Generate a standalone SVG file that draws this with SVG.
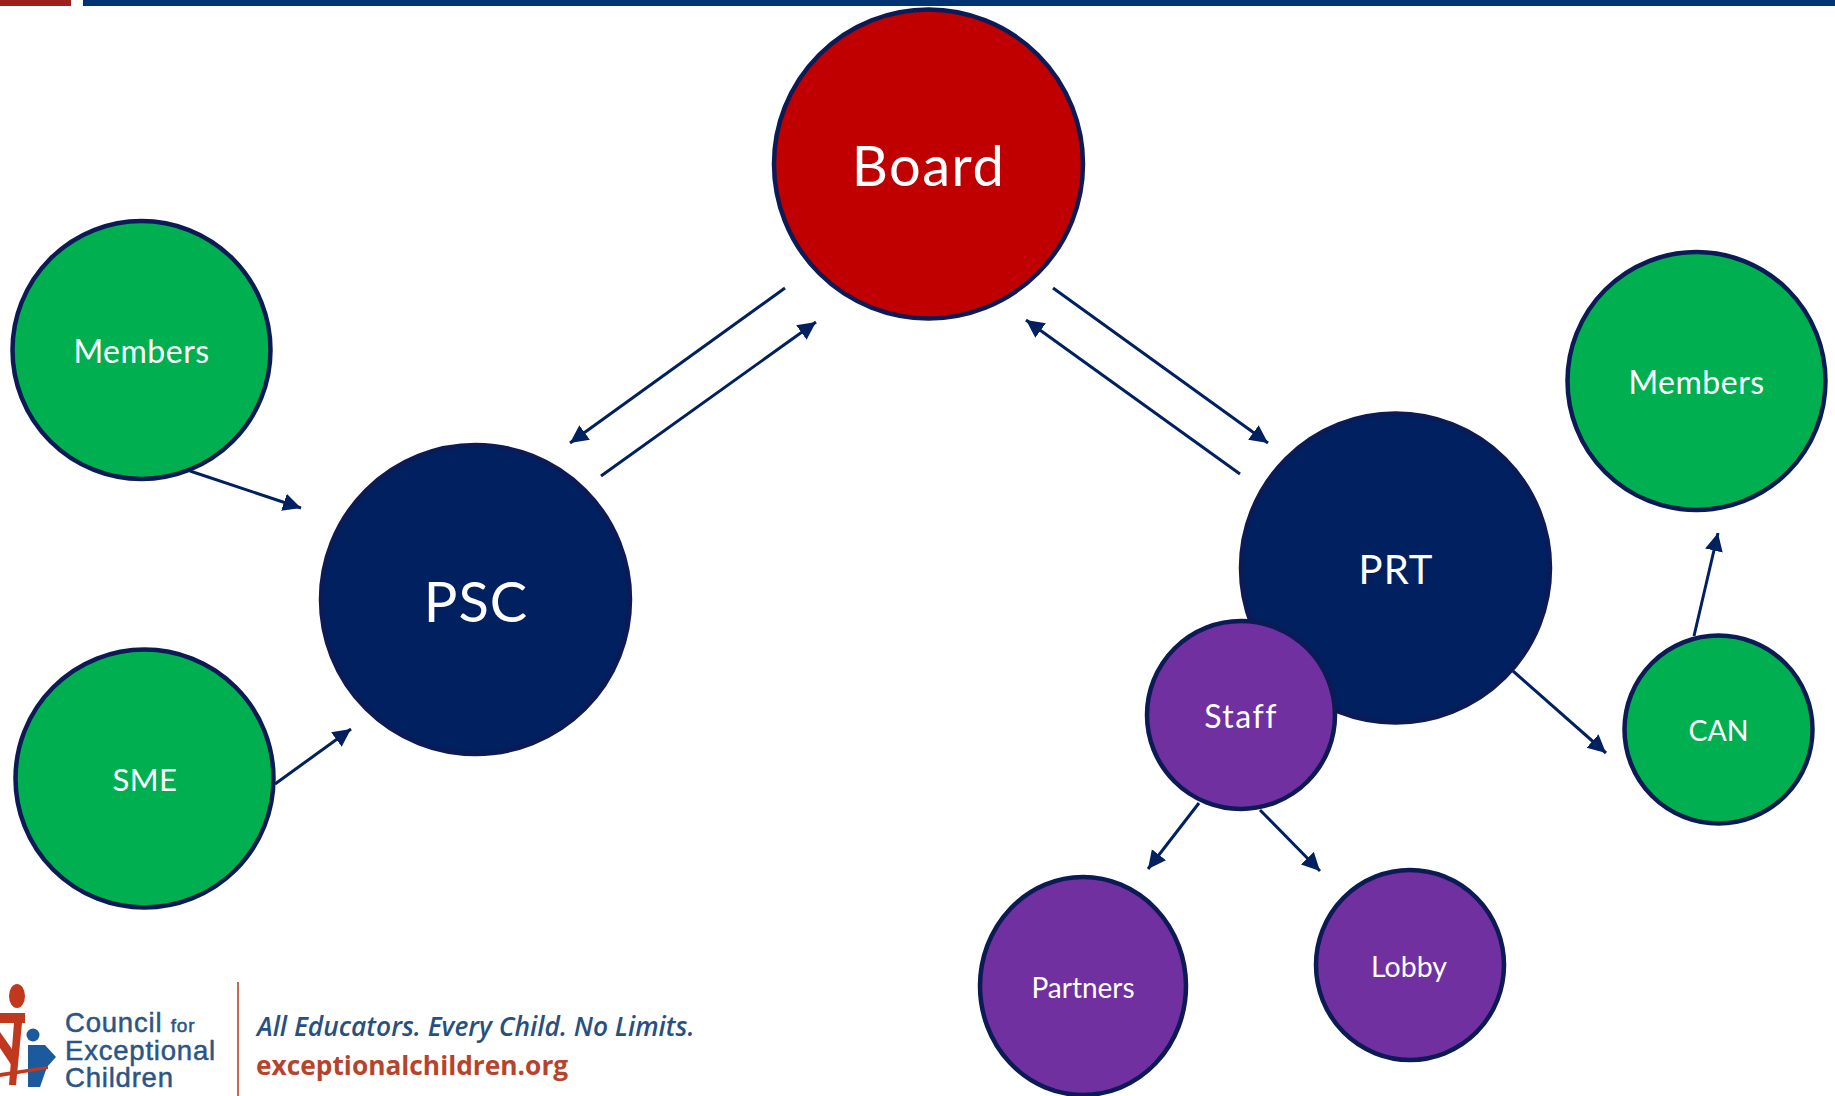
<svg xmlns="http://www.w3.org/2000/svg" width="1835" height="1096" viewBox="0 0 1835 1096">
<style>
text{font-family:"Lato","Liberation Sans",sans-serif;fill:#fff;text-anchor:middle}
.c{stroke:#0c1a55;stroke-width:4.500}
.n{fill:#002060}.r{fill:#c00000}.g{fill:#00b050}.p{fill:#7030a0}
.l{stroke:#002060;stroke-width:3;fill:none;marker-end:url(#a)}
.m{font-size:32px;letter-spacing:.5px}.s{font-size:28.500px}.b{font-size:56px;letter-spacing:1.500px}
.t{font-family:"Open Sans","Liberation Sans",sans-serif;text-anchor:start;font-size:26.300px}
.o{font-family:"Liberation Sans",sans-serif;text-anchor:start;font-size:27.500px;fill:#2a5585;stroke:#2a5585;stroke-width:.5;letter-spacing:.8px}
</style>
<defs><marker id="a" markerUnits="userSpaceOnUse" markerWidth="20" markerHeight="20" refX="18" refY="9" orient="auto"><path d="M0 0L18 9L0 18Z" fill="#002060"/></marker></defs>
<rect width="1835" height="1096" fill="#fff"/>
<rect x="0" y="0" width="71" height="6" fill="#9e1f1c"/>
<rect x="83" y="0" width="1752" height="6" fill="#003473"/>
<g id="connectors">
<path class="l" d="M785 288L570 443"/>
<path class="l" d="M601 476L816 322"/>
<path class="l" d="M1053 288L1268 443"/>
<path class="l" d="M1240 474L1026 320"/>
<path class="l" d="M190 471L301 508"/>
<path class="l" d="M275 784L351 729"/>
<path class="l" d="M1513 671L1606 753"/>
<path class="l" d="M1694 636L1718 533"/>
<path class="l" d="M1199 803L1148 869"/>
<path class="l" d="M1260 810L1320 871"/>
</g>
<g id="board"><circle class="c r" cx="928.500" cy="164" r="154.500"/><text class="b" x="928.500" y="186">Board</text></g>
<g id="psc"><circle class="c n" cx="475.500" cy="599.500" r="154.500"/><text class="b" style="letter-spacing:1px" x="476" y="622">PSC</text></g>
<g id="prt"><circle class="c n" cx="1395.500" cy="568" r="154.500"/><text x="1396" y="584" style="font-size:40px;letter-spacing:1px">PRT</text></g>
<g id="members-left"><circle class="c g" cx="141.500" cy="350" r="129"/><text class="m" x="141.500" y="363">Members</text></g>
<g id="sme"><circle class="c g" cx="144.500" cy="778.500" r="129"/><text class="m" style="font-size:31px;letter-spacing:.5px" x="145" y="791">SME</text></g>
<g id="members-right"><circle class="c g" cx="1696.500" cy="381" r="129"/><text class="m" x="1696.500" y="394">Members</text></g>
<g id="can"><circle class="c g" cx="1718.500" cy="729.500" r="94"/><text class="s" x="1718.500" y="741">CAN</text></g>
<g id="staff"><circle class="c p" cx="1241" cy="715" r="94"/><text class="m" style="letter-spacing:1.500px" x="1241" y="728">Staff</text></g>
<g id="partners"><ellipse class="c p" cx="1083" cy="986" rx="103" ry="109"/><text class="s" style="font-size:28px" x="1083" y="998">Partners</text></g>
<g id="lobby"><ellipse class="c p" cx="1410" cy="965" rx="94" ry="95"/><text class="s" x="1409" y="977">Lobby</text></g>
<g id="logo">
<ellipse cx="17" cy="996" rx="8" ry="12" fill="#c0391f"/>
<path d="M0 1013H25V1023H22L16 1085H9L14 1023H0Z" fill="#c0391f"/>
<path d="M0 1032L14 1052L12 1066L0 1048Z" fill="#c0391f"/>
<circle cx="33" cy="1035" r="6.500" fill="#1b5a9c"/>
<path d="M28 1045H45L56 1057L47 1067L40 1087H28Z" fill="#1b5a9c"/>
<path d="M0 1073L48 1066V1069L0 1077Z" fill="#c0391f"/>
<rect x="237" y="982" width="2" height="114" fill="#c9684f"/>
<text class="o"><tspan x="65" y="1032">Council <tspan style="font-size:19px">for</tspan></tspan><tspan x="65" y="1059.500">Exceptional</tspan><tspan x="65" y="1087">Children</tspan></text>
<text class="t" x="257" y="1036" style="font-style:italic;fill:#27507f;font-weight:600">All Educators. Every Child. No Limits.</text>
<text class="t" x="256" y="1075" style="font-weight:700;fill:#b8432c">exceptionalchildren.org</text>
</g>
</svg>
